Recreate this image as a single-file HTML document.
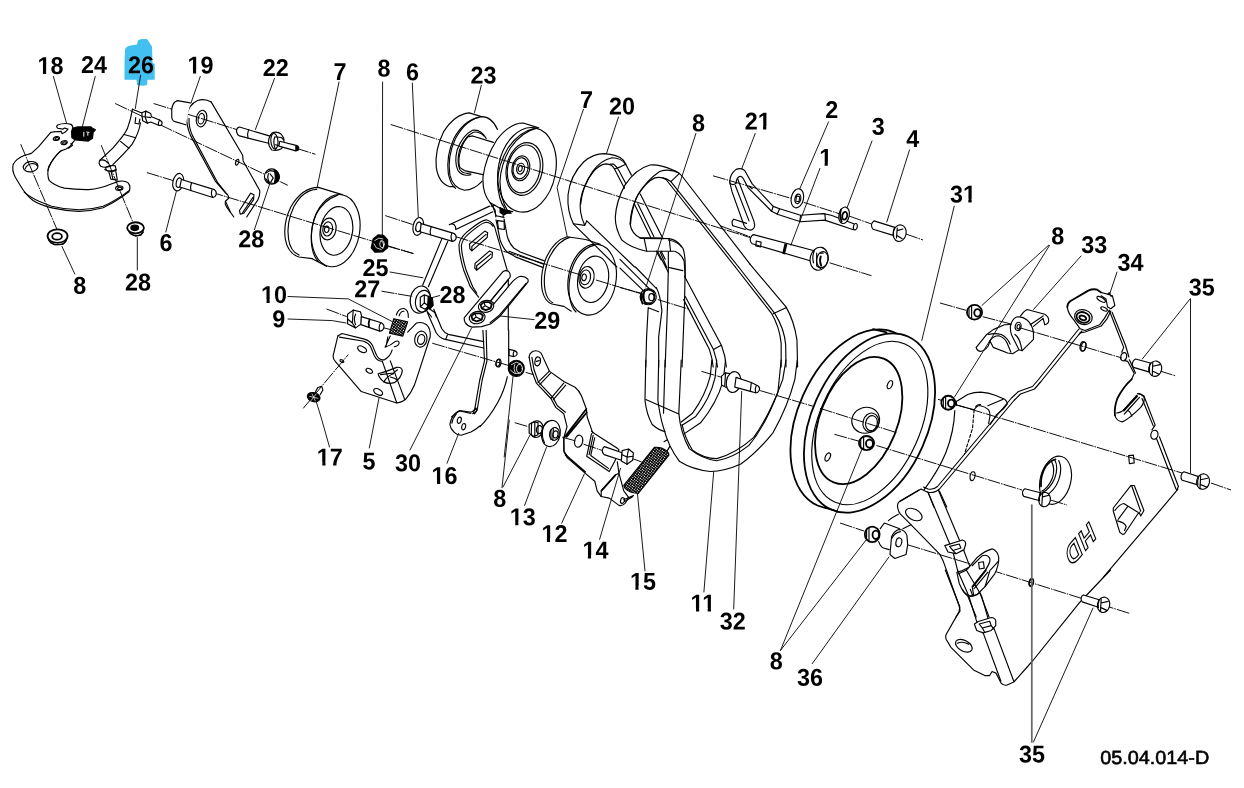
<!DOCTYPE html>
<html lang="en"><head><meta charset="utf-8"><title>05.04.014-D</title>
<style>
html,body{margin:0;padding:0;background:#fff;}
body{width:1244px;height:788px;overflow:hidden;}
svg{display:block;will-change:transform;}
svg text{text-rendering:geometricPrecision;}
.d path,.d line,.d ellipse,.d circle,.d polyline,.d polygon,.d rect{fill:none;stroke:#000;stroke-width:1.15;stroke-linecap:round;stroke-linejoin:round;vector-effect:non-scaling-stroke;}
.d .w{fill:#fff;}
.d .k{fill:#000;}
.d .t{stroke-width:0.8;}
.d .b{stroke-width:1.8;}
.d .ax{stroke-width:0.95;stroke-dasharray:13 1 1.6 1;stroke-linecap:butt;}
.d .ld{stroke-width:0.9;}
.n text{font-family:"Liberation Sans",sans-serif;font-size:24.4px;font-weight:bold;fill:#000;}
.n text.c{font-size:19px;font-weight:normal;stroke:#000;stroke-width:0.6px;}
</style></head>
<body>
<svg width="1244" height="788" viewBox="0 0 1244 788">
<defs><pattern id="hx" width="13" height="13" patternUnits="userSpaceOnUse" patternTransform="rotate(38)"><rect width="13" height="13" fill="#fff"/><rect width="13" height="7.2" fill="#000"/><rect width="5.5" height="13" fill="#000"/></pattern></defs>
<rect width="1244" height="788" fill="#fff"/>
<g class="d">
<g>
<path style="stroke:none;fill:#42c1f1" d="M124.5 63 L125 50 Q125.5 46 131 45.5 L137 44.5 L138 40.5 Q139 39 142 39 L146.5 39 Q148 39.5 149 42 L152 46.5 L152.5 63 L154.7 64 L154.7 79.7 L147.5 79.7 L147 85 Q143 86.5 137 85 L136.5 79.7 L124.5 79.7 Z"/>
</g>
<g>
<path class="ax" d="M115.2 103.5 L287.8 185.3"/>
<path class="ax" d="M153.6 103.5 L315.5 154.3"/>
<path class="ax" d="M146.9 172.6 L414 253.8"/>
<path class="ax" d="M20.7 144.2 L57 229.5"/>
<path class="ax" d="M101.2 145.2 L133 222.5"/>
<path class="ax" d="M385.2 215.6 L412.6 224.5"/>
<path class="ax" d="M387.6 246.2 L413.4 253.5"/>
<path class="ax" d="M390.7 124.5 L600 190.7"/>
<path class="ax" d="M600 190.7 L750 237.5"/>
<path class="ax" d="M620 287.5 L641 293.2 M657.9 299.6 L689.3 309.3"/>
<path class="ax" d="M455.7 236.7 L579 274.4 M596 280 L640.5 293.5"/>
<path class="ax" d="M381.6 291.2 L412.2 296.4"/>
<path class="ax" d="M326.6 309 L346.7 316.6 M383.8 327.9 L390.3 329.5 M432.2 343.2 L509 365.6 M525.7 372.4 L534 374.8"/>
<path class="ax" d="M303.2 408.4 L348.3 354.5"/>
<path class="ax" d="M514.7 422.7 L528.4 426.7 M562.2 437.2 L576 441 M583.5 444.2 L602.8 450.6 M632.6 458.7 L641.5 461.9"/>

<path class="ax" d="M713 175.8 L791 198.3 M803.8 202.4 L839.3 213.7 M849 216 L871.5 224 M905.3 233.8 L923 240"/>
<path class="ax" d="M720 225.7 L750.6 237 M829.6 262.8 L871.5 275.7"/>
<path class="ax" d="M940 303 L966 310.3 M982.7 316.7 L1011 324 M1020.6 328 L1122 358 M1160 371 L1176 376"/>
<path class="ax" d="M938 399.3 L1182 473 M1211 483 L1231 490"/>
<path class="ax" d="M840 523 L864 531 M907.7 544.8 L970.5 564 M990 569.8 L1130 613.5"/>
<path class="ax" d="M701.4 371.3 L723 377.7 M760.2 390.6 L820 408.3"/>
</g>
<g>
<g transform="translate(0,95) scale(0.16116)">
<!-- plate 18 outline -->
<path d="M340 228 L315 232 L290 262 L240 320 L195 362 L150 375 Q100 395 82 430 Q72 465 95 510 L125 560 Q160 620 205 655 Q250 685 330 702 Q410 720 490 722 Q570 720 640 700 Q700 672 760 630 L800 600 Q815 570 795 545 Q775 528 735 536 L690 552 Q620 582 550 587 Q470 588 400 578 Q335 562 305 530 Q290 495 302 445 Q330 390 375 348 L410 335 Q440 320 455 290 L462 283"/>
<path d="M340 228 L380 226 L385 240 L405 230 L422 212 L400 205 L392 212 L358 206 Q345 195 358 186 Q400 170 440 182 Q455 192 452 215"/>
<path d="M150 603 Q200 650 320 690 Q400 710 490 712 Q570 710 640 690 Q720 655 805 590"/>
<path d="M297 470 Q310 420 350 375 Q365 355 385 343"/>
<path d="M440 300 L450 312 L425 330"/>
<ellipse cx="190" cy="445" rx="46" ry="32" transform="rotate(-8 190 445)"/>
<path d="M155 460 Q165 430 200 425 Q225 425 232 440"/>
<ellipse cx="350" cy="270" rx="20" ry="12" transform="rotate(-10 350 270)"/>
<ellipse cx="352" cy="272" rx="12" ry="7" transform="rotate(-10 350 270)"/>
<ellipse cx="398" cy="296" rx="20" ry="12" transform="rotate(-10 398 296)"/>
<ellipse cx="400" cy="298" rx="12" ry="7" transform="rotate(-10 398 296)"/>
<ellipse cx="740" cy="578" rx="23" ry="14" transform="rotate(-5 740 578)"/>
<ellipse cx="742" cy="580" rx="13" ry="8" transform="rotate(-5 740 578)"/>
<!-- spring 24 -->
<path class="k" d="M450 207 L482 198 L565 198 L572 204 L592 216 L578 232 L574 268 L548 286 L468 279 L446 266 L444 228 Z"/>
<path d="M520 232 L520 256 M538 230 L552 232 M545 238 L545 250" style="stroke:#fff;stroke-width:1"/>
<!-- rod 26 -->
<path d="M822 88 Q812 150 790 210 Q775 245 700 330 L620 405"/>
<path d="M872 172 Q862 235 820 305 Q780 355 700 432"/>
<path d="M620 405 Q608 425 625 442 Q650 455 690 440"/>
<path d="M622 405 Q650 395 672 425"/>
<path d="M770 245 L842 265 M748 288 L800 330"/>
<path d="M822 88 L880 112 M842 140 L838 175 L862 180 L868 150"/>
<!-- pin on top of rod -->
<path class="w" d="M880 110 L905 100 L935 115 L940 135 L990 155 Q1010 165 1005 180 Q1000 192 985 188 L935 168 L915 175 L885 160 Z"/>
<path d="M905 100 L900 135 L915 175 M880 135 L900 135 L935 140 M990 155 Q980 170 985 188"/>
<!-- screw at bottom of rod -->
<path d="M655 450 Q680 432 715 440 L720 462 Q690 478 660 468 Z"/>
<path d="M650 462 Q690 485 722 465 M675 475 L688 522 L728 528 L718 470 M690 478 L702 525"/>
</g>
</g>
<g>
<g transform="translate(150,90) scale(0.16116)">
<!-- bracket 19 -->
<path d="M380 75 Q340 50 295 65 Q240 90 228 160 Q225 220 250 280 L405 565 L470 640 Q492 655 488 672 L468 690 Q462 705 475 725 L520 788"/>
<path d="M380 75 L575 405 L578 440 L680 622 Q685 645 670 680 L600 788"/>
<path d="M242 175 Q240 230 262 280 L420 575 L478 648"/>
<path d="M468 690 L500 760"/>
<ellipse cx="320" cy="177" rx="32" ry="52" transform="rotate(12 320 177)"/>
<ellipse cx="318" cy="178" rx="19" ry="33" transform="rotate(12 318 178)"/>
<ellipse cx="541" cy="448" rx="9" ry="19" transform="rotate(18 541 448)"/>
<path d="M555 748 L625 640 L645 650 L642 682 L582 765 L560 770 Z M575 760 L638 668"/>
<!-- boss cylinder -->
<path class="w" d="M250 80 L170 66 Q140 75 135 120 L135 170 Q138 190 150 195 L222 216 Z" style="stroke:none"/><path d="M250 80 L170 66 Q140 75 135 120 L135 170 Q138 190 150 195 L222 216"/>
<!-- bolt 22 -->
<path class="w" d="M750 288 L555 230 Q535 235 537 258 Q540 278 555 285 L742 332 Z"/>
<path d="M612 246 Q602 270 608 298"/>
<path class="w" d="M760 265 Q790 255 815 275 L830 300 L832 340 L815 365 Q790 380 755 372 Q735 350 735 320 Q738 285 760 265 Z"/>
<path d="M775 290 Q760 320 778 368 M775 290 L815 295 L830 310 M778 340 L800 345"/>
<ellipse cx="772" cy="318" rx="22" ry="48" transform="rotate(-5 772 318)"/>
<path class="w" d="M805 318 L912 345 Q928 355 920 372 L905 378 L800 348 Z"/>
<path class="k" d="M905 348 L922 355 L918 372 L905 376 Z"/>
<!-- bolt 6 -->
<ellipse class="w" cx="175" cy="572" rx="33" ry="55" transform="rotate(12 175 572)"/>
<ellipse cx="180" cy="575" rx="17" ry="30" transform="rotate(12 180 575)"/>
<path class="w" d="M195 555 L400 618 Q415 630 410 650 Q405 665 390 667 L185 602 Z"/>
<path d="M258 575 Q248 600 254 625 M390 667 Q375 645 385 620"/>
<!-- nut 28 -->
<ellipse class="w" cx="755" cy="537" rx="45" ry="48"/>
<path class="k" d="M770 495 Q805 510 803 545 Q795 575 770 580 Q785 540 770 495 Z"/>
<path d="M720 515 L745 500 L772 505 M718 550 L735 575 L768 580 M735 520 Q725 545 740 570 M745 520 L765 545 L750 570"/>
<!-- roller 7 top arcs -->
</g>
</g>
<g>
<g transform="translate(270,160) scale(0.16116)">
<!-- roller 7 -->
<ellipse cx="408" cy="438" rx="148" ry="226" transform="rotate(10 408 438)"/>
<ellipse cx="412" cy="440" rx="100" ry="152" transform="rotate(10 412 440)"/>
<path d="M448 215 L300 170 Q200 170 130 290 Q80 390 95 490 Q110 580 180 602 L262 612"/>
<path d="M290 182 Q205 185 148 290 Q100 390 115 490 Q125 565 180 590"/>
<path d="M262 612 L350 660 M420 218 Q330 250 285 340 Q245 440 260 540 Q270 600 300 630"/>
<ellipse cx="362" cy="428" rx="48" ry="68" transform="rotate(10 362 428)"/>
<ellipse cx="358" cy="428" rx="30" ry="44" transform="rotate(10 358 428)"/>
<ellipse cx="352" cy="430" rx="14" ry="20" transform="rotate(10 352 430)"/>

<!-- nut 8 -->
<path class="k" d="M640 490 L670 465 L705 468 L730 495 L730 545 L700 570 L650 572 L628 545 Z"/>
<path d="M650 500 L675 485 L700 490 M690 500 Q715 520 700 550 M645 520 L660 545 L690 555" style="stroke:#fff;stroke-width:0.8"/>
<ellipse cx="695" cy="522" rx="14" ry="22" style="stroke:#fff;stroke-width:0.8"/>
<!-- bolt 6 (second) -->
<ellipse class="w" cx="920" cy="412" rx="32" ry="56" transform="rotate(12 920 412)"/>
<ellipse cx="922" cy="415" rx="17" ry="30" transform="rotate(12 922 415)"/>
<path class="w" d="M938 395 L1140 455 Q1158 465 1155 485 Q1150 503 1132 505 L932 445 Z"/>
<path d="M1000 415 Q990 440 996 463 M1132 505 Q1118 482 1128 455"/>
<!-- nut 28 leftover (left edge) -->
</g>
</g>
<g>
<g transform="translate(400,90) scale(0.16116)">
<!-- front disc -->
<ellipse cx="788" cy="495" rx="178" ry="265" transform="rotate(11 788 495)"/>
<ellipse cx="772" cy="490" rx="112" ry="165" transform="rotate(11 772 490)"/>
<ellipse cx="768" cy="490" rx="100" ry="150" transform="rotate(11 768 490)"/>
<ellipse cx="750" cy="486" rx="55" ry="78" transform="rotate(11 750 486)"/>
<ellipse cx="748" cy="486" rx="46" ry="66" transform="rotate(11 748 486)"/>
<ellipse cx="748" cy="488" rx="24" ry="34" transform="rotate(11 748 488)"/>
<ellipse cx="746" cy="488" rx="12" ry="18" transform="rotate(11 746 488)"/>
<path d="M860 235 L765 205 Q680 205 600 310 Q530 420 515 540 Q510 640 560 700 L640 745"/>
<path d="M830 240 Q740 260 670 360 Q610 460 605 570 Q610 680 650 735"/>
<path d="M845 238 Q755 258 685 360 Q625 460 620 570 Q625 680 665 745"/>
<!-- rear disc -->
<path d="M605 245 Q570 165 505 165 Q410 180 345 300 Q290 420 310 530 Q330 610 400 622 Q460 620 510 565"/>
<path d="M505 165 L430 142 Q340 150 270 260 Q215 370 225 480 Q240 580 310 600 L335 600"/>
<path d="M490 170 Q395 190 335 300 Q285 410 300 520 Q315 590 345 610"/>
<path d="M535 300 Q500 240 450 250 Q390 280 355 370 Q335 450 360 500 Q390 540 440 525"/>
<path d="M520 285 Q490 255 455 262 Q400 290 370 370 Q350 450 372 495 Q395 525 440 515"/>
<!-- hub -->
<path d="M420 292 L450 285 L580 325 M370 480 L400 500 L515 525 M420 292 Q385 330 370 400 Q360 450 372 480"/>
<!-- small bracket below -->
<path d="M560 700 L590 745 L595 788 M640 745 L640 788 M620 730 L650 745 L700 755"/>
<path class="k" d="M630 740 L680 750 L690 765 L640 765 Z"/>
</g>
</g>
<g>
<g transform="translate(550,140) scale(0.16116)">
<!-- belt 20 top loop -->
<path d="M145 520 Q105 440 112 340 Q125 220 210 135 Q270 85 335 85 Q420 90 455 125 L470 150 L505 218"/>
<path d="M190 400 Q200 290 265 195 Q315 125 385 110 Q440 110 470 150"/>
<path d="M215 528 Q178 450 190 370 Q205 280 270 195 Q310 150 350 148 Q385 150 400 180 L462 300"/>
<path d="M375 150 L395 150 Q415 165 425 185 L470 270"/>
<path d="M400 180 L440 165 L470 150 M145 520 L215 530 L228 502"/>
<path d="M145 520 L415 788 M228 502 L525 788"/>
<!-- belt 11 top loop -->
<path d="M600 690 Q500 670 445 620 Q405 550 405 480 Q410 380 465 280 Q530 180 620 155 Q680 150 760 185 Q800 200 820 225 L1241 770"/>
<path d="M500 520 Q505 430 545 340 Q600 250 680 195 Q745 175 800 205"/>
<path d="M497 520 Q500 440 535 360 Q590 260 650 235 Q690 225 720 245 L1150 788"/>
<path d="M700 235 Q725 240 750 258 L1170 788"/>
<path d="M750 258 L800 210"/>
<path d="M497 520 Q505 580 560 608 L740 612 Q790 622 815 660"/>
<path d="M600 690 L770 690"/>
<path d="M585 615 L600 688 M740 615 L748 690"/>
<path class="b" d="M562 609 L700 611"/>
<path d="M525 400 L625 605 M545 395 L645 600 M560 335 L695 600"/>
<path d="M660 690 L690 745 M690 690 L715 740"/>
</g>
<g transform="translate(620,240) scale(0.16116)">
<!-- belt 11 right run -->
<path d="M805 148 L1030 415 Q1080 500 1098 620 L1102 788"/>
<path d="M715.5 167.5 L940 455 Q990 540 1000 640 L1000 788"/>
<path d="M736 167.5 L960 455 Q1020 550 1028 650 L1030 788"/>
<path d="M950 458 L1030 420"/>
<!-- belt 20 right run -->
<path d="M400 225 L630 655 Q655 720 660 788"/>
<path d="M395 370 L555 680 Q575 740 578 788"/>
<path d="M405 350 L580 680 Q600 740 605 788"/>
<path d="M580 680 L625 655"/>
<!-- left vertical run -->
<path d="M340 70 Q380 85 398 130 L405 230"/>
<path d="M300 0 Q360 10 390 50 Q405 90 405 160 L400 400 L385 788"/>
<path d="M300 170 L390 190"/>
<path d="M300 75 L300 170 L295 400 L280 788"/>
<path d="M250 75 L290 170 M235 75 L300 200"/>
<path d="M225 295 Q250 340 260 440 L240 600 L240 788"/>
<path d="M175 420 L240 445 M175 420 L165 600 L160 788"/>
<path d="M95.4 167.5 L225 300 M0 120 L180 300 M0 175 L140 310"/>
<!-- nut 8 -->
<ellipse cx="175" cy="352" rx="50" ry="50" class="w"/>
<ellipse cx="178" cy="352" rx="38" ry="42"/>
<ellipse cx="195" cy="355" rx="16" ry="22"/>
<path class="b" d="M135 330 Q125 360 140 395 M150 320 Q140 360 158 395"/>
<path d="M150 315 L180 305 L210 320 M160 390 L195 392"/>
</g>
<g transform="translate(620,360) scale(0.16116)">
<path d="M160 0 L155 250 Q165 340 200 400 Q240 435 280 445"/>
<path d="M240 0 L235 250 Q250 360 270 420 Q300 540 370 630 Q450 680 560 692 Q650 690 750 645 Q850 575 950 450 Q1040 290 1085 120 L1100 0"/>
<path d="M280 0 L270 330"/>
<path d="M380 0 L365 330 Q375 450 430 550 Q510 615 600 625 Q700 610 800 530 Q900 410 980 200 L1000 0"/>
<path d="M385 400 Q400 480 450 560 Q520 612 600 612 Q720 580 830 480 Q930 340 1010 120 L1030 0"/>
<path d="M160 245 L365 335"/>
<path d="M570 0 L560 100 Q530 220 450 330 L380 385"/>
<path d="M600 0 L590 110 Q560 240 470 350 L385 405"/>
<path d="M655 0 L640 130 Q600 270 500 390 L395 460"/>
<!-- bolt 32 -->
<path class="w" d="M630 100 L655 80 L690 85 L690 160 L660 170 L630 155 Z"/>
<ellipse class="w" cx="705" cy="137" rx="45" ry="65" transform="rotate(10 705 137)"/>
<path d="M655 80 L650 160"/>
<path class="w" d="M720 108 L815 140 L855 160 Q870 170 865 188 Q855 205 840 203 L810 195 L712 168 Z"/>
<path d="M815 140 L808 195 M845 160 Q835 180 842 203"/>
</g>
</g>
<g>
<g transform="translate(380,190) scale(0.16116)">
<!-- arms of bracket 25 -->
<path d="M430 215 L680 100 M470 245 L700 135 M430 215 Q445 205 460 215 Q472 228 470 245"/>
<path d="M385 300 L265 590 M420 320 L300 600"/>
<path d="M700 100 L720 160 L770 170 M690 100 L715 95"/>
<path class="k" d="M745 110 L800 135 L770 155 L745 140 Z"/>
<path d="M720 185 L745 310 Q765 365 790 385 L840 415 L1010 480"/>
<path d="M770 180 L790 290 Q805 335 830 360 L870 385 L1020 440"/>
<path d="M728 190 L770 195 L772 245 L735 240 Z"/>
<path d="M800 380 L1015 460"/>
<!-- plate -->
<path d="M790 500 L720 260 Q710 200 660 185 Q630 185 540 260 Q495 300 490 340 Q490 400 520 500 L560 600 L612 665"/>
<path d="M700 225 Q690 205 660 200 Q635 200 550 272 Q510 305 505 345 Q505 400 535 500 L575 600 L600 640"/>
<path d="M555 335 L650 255 L668 265 L665 295 L570 378 L558 365 Z M570 378 L570 350 L658 275"/>
<path d="M590 455 L680 378 L698 388 L695 418 L600 498 L588 485 Z M600 498 L600 470 L688 398"/>
<!-- lower boss + nut 28 -->
<ellipse cx="250" cy="680" rx="62" ry="85" transform="rotate(10 250 680)"/>
<ellipse cx="268" cy="690" rx="48" ry="68" transform="rotate(10 268 690)"/>
<path class="k" d="M300 660 L325 670 L330 715 L310 740 L295 730 Z"/>
<path d="M250 665 L275 650 L300 660 L300 720 L280 740 L250 725 Z M275 650 L275 700 L250 725 M275 700 L300 720"/>
<path d="M310 740 L340 760 L350 788 M290 750 L320 788"/>
</g>
<g transform="translate(460,200) scale(0.16116)">
<!-- pulley 7 lower -->
<ellipse cx="820" cy="494" rx="148" ry="222" transform="rotate(10 820 494)"/>
<ellipse cx="826" cy="492" rx="95" ry="145" transform="rotate(10 826 492)"/>
<ellipse cx="785" cy="480" rx="47" ry="68" transform="rotate(10 785 480)"/>
<ellipse cx="778" cy="480" rx="32" ry="46" transform="rotate(10 778 480)"/>
<ellipse cx="770" cy="480" rx="14" ry="21" transform="rotate(10 770 480)"/>
<path d="M870 275 L780 245 L665 228 Q580 250 530 370 Q495 470 510 560 Q525 630 570 645 L645 660 L690 690"/>
<path d="M680 232 Q600 255 548 370 Q512 470 528 560 Q540 620 575 638"/>
<path d="M835 280 Q750 300 705 400 Q665 500 680 600 Q690 670 720 695"/>
</g>
<g transform="translate(455,260) scale(0.08881)">
<!-- link 29 -->
<path class="w" d="M105 650 L540 130 Q570 112 600 125 Q625 145 622 185 L615 200 L400 460 L440 490 L650 240 Q700 190 740 183 Q790 183 820 215 Q828 235 820 250 L510 630 L400 720 L300 750 L190 755 Q140 745 115 705 Q100 675 105 650 Z"/>
<path d="M600 222 L395 470 M800 262 L500 622 L395 705"/>
<ellipse class="w" cx="350" cy="522" rx="88" ry="66" transform="rotate(-12 350 522)"/>
<path class="w b" d="M290 505 L325 475 L385 475 L415 500 L400 545 L345 565 L300 545 Z"/>
<path d="M325 475 L340 515 L400 545 M340 515 L300 545"/>
<ellipse class="w" cx="250" cy="648" rx="90" ry="68" transform="rotate(-12 250 648)"/>
<path class="w b" d="M185 632 L222 600 L282 600 L315 625 L300 672 L245 692 L198 672 Z"/>
<path d="M222 600 L238 642 L300 672 M238 642 L198 672"/>
<path d="M600 300 L600 222 M600 520 L600 788"/>
</g>
</g>
<g>
<g transform="translate(300,290) scale(0.16116)">
<!-- bolt 9 -->
<path class="w" d="M295 150 L330 125 L375 135 L382 160 L380 210 L345 235 L295 210 Z"/>
<path d="M330 125 L325 205 L345 235 M295 180 L325 205 M345 150 Q330 180 345 215"/>
<path class="w" d="M380 165 L505 203 Q525 215 520 235 Q515 255 495 255 L378 215 Z"/>
<path class="b" d="M432 182 Q422 205 428 230"/>
<path d="M495 255 Q485 230 500 205"/>
<!-- spring 10 -->
<path d="M582 178 L668 198 L638 286 L555 268 Z" style="fill:url(#hx)"/>
<path d="M598 155 Q610 112 645 115 Q675 125 672 170 M615 160 Q625 130 645 132"/>
<path d="M560 285 L528 355 Q560 345 590 320 Q615 310 615 330 Q610 350 585 352 M545 290 L535 345"/>
<!-- plate 5 -->
<path d="M235 285 L260 270 L400 305 Q435 315 450 345 L475 405 Q495 440 525 432 Q560 415 572 372"/>
<path d="M235 285 L205 410 Q205 430 220 445 L380 630 L595 700 Q630 700 655 678 Q690 640 710 590 L740 500 L808 290 Q812 240 785 215 Q755 195 722 205 L668 262"/>
<path d="M245 292 L395 318 Q425 328 438 352 L462 410 Q478 440 505 442"/>
<path d="M510 440 L600 700 M560 440 L650 680"/>
<ellipse cx="385" cy="368" rx="30" ry="17" transform="rotate(28 385 368)"/>
<ellipse cx="260" cy="441" rx="13" ry="7" transform="rotate(28 260 441)"/>
<ellipse cx="430" cy="502" rx="22" ry="13" transform="rotate(28 430 502)"/>
<ellipse cx="485" cy="632" rx="30" ry="17" transform="rotate(28 485 632)"/>
<ellipse cx="750" cy="305" rx="38" ry="50" transform="rotate(12 750 305)"/>
<ellipse cx="752" cy="307" rx="22" ry="31" transform="rotate(12 752 307)"/>
<path d="M485 520 Q540 505 600 480 Q630 475 635 500 Q630 545 585 575 Q550 585 520 570 Q490 545 485 520 Z"/>
<path d="M500 525 L580 515 L605 495 M520 570 Q545 530 580 520 M560 540 Q590 545 605 560"/>
<!-- screw 17 -->
<ellipse class="k" cx="85" cy="665" rx="40" ry="28" transform="rotate(15 85 665)"/>
<path d="M60 660 L110 672 M75 645 L95 688 M100 645 L70 685" style="stroke:#fff;stroke-width:0.7"/>
<path d="M95 635 L110 605 L135 598 L142 620 L125 650"/>
<!-- arm from boss 27 -->
<path d="M830 120 L880 240 Q895 265 920 275 L1140 320"/>
<path d="M790 140 L845 265 Q865 295 895 305 L1140 360"/>
<path d="M915 278 L905 305"/>
<!-- part 16 rod -->
<path d="M1135 250 L1145 440 L1115 560 L1085 735 Q1075 758 1055 758 L990 748 L940 788"/>
<path d="M1155 250 L1160 440 L1130 560 L1100 740 Q1090 765 1070 768"/>
<ellipse cx="1228" cy="452" rx="12" ry="22" transform="rotate(12 1228 452)"/>
</g>
</g>
<g>
<g transform="translate(480,330) scale(0.16116)">
<!-- bracket 12 upper -->
<path d="M305 170 Q305 145 330 132 Q360 122 380 145 L430 255 L520 320 L590 355 Q615 375 630 410 L660 490 L665 540 L700 640"/>
<path d="M305 170 L320 250 L350 330 L440 425 L470 480 L520 520 L540 600 L520 670 L520 750 L545 788"/>
<path d="M322 170 L335 245 L362 322 L452 418 L480 470 L530 510"/>
<path d="M360 325 L430 255 M372 338 L438 268 M440 425 L520 330 M455 432 L532 342"/>
<path d="M520 670 L660 490 M538 662 L662 512" class="b"/>
<ellipse cx="358" cy="195" rx="17" ry="28" transform="rotate(10 358 195)"/>
<path d="M350 195 L368 190"/>
<!-- nut 8 -->
<ellipse class="k" cx="225" cy="238" rx="50" ry="50"/>
<path d="M195 215 L225 200 L255 212 M190 250 L215 270 L250 268 M215 215 Q205 240 218 265" style="stroke:#fff;stroke-width:0.8"/>
<ellipse cx="245" cy="240" rx="18" ry="26" style="stroke:#fff;stroke-width:0.9"/>
<!-- pin -->
<path d="M180 120 L215 128 Q232 135 230 150 Q225 165 210 165 L180 158 Z M210 165 Q200 145 215 128"/>
<ellipse cx="115" cy="205" rx="15" ry="25" transform="rotate(12 115 205)"/>
<!-- part 16 curves -->
<path d="M178 0 L178 230 M170 290 Q150 380 110 450 Q60 540 0 600"/>

<!-- small nut 8 + washer 13 -->
<ellipse class="w" cx="350" cy="615" rx="42" ry="52" transform="rotate(10 350 615)"/>
<path class="w" d="M305 585 L335 570 L360 575 L360 650 L335 660 L305 640 Z"/>
<path d="M320 578 L318 650 M340 572 L340 658"/>
<ellipse cx="368" cy="618" rx="18" ry="25" transform="rotate(10 368 618)"/>
<ellipse class="w" cx="440" cy="642" rx="58" ry="82" transform="rotate(10 440 642)"/>
<path d="M400 700 Q380 660 390 610 Q400 580 420 568"/>
<ellipse cx="462" cy="645" rx="30" ry="40" transform="rotate(10 462 645)"/>
<ellipse cx="468" cy="648" rx="16" ry="22" transform="rotate(10 468 648)"/>
<path d="M440 620 L440 680 M455 612 L452 685"/>
<ellipse cx="612" cy="690" rx="25" ry="38" transform="rotate(12 612 690)"/>
</g>
<g transform="translate(490,420) scale(0.16116)">
<!-- bracket 12 lower -->
<path d="M458 115 L460 200 L480 235 L590 330 L650 380 L665 440 L690 475 L740 485 L800 530 Q825 535 840 515 L860 480"/>
<path d="M630 70 L650 85 L790 175 L800 185 L775 255 L740 320 L600 225 L630 85"/>
<path d="M650 110 L625 220 L735 300 M640 95 L615 215"/>
<path d="M690 440 L780 340 L800 330 L830 440 L860 480 M800 330 L790 260 M690 475 L690 440"/>
<path class="b" d="M470 218 L590 322 M692 438 L778 342"/>
<ellipse cx="822" cy="500" rx="12" ry="18" transform="rotate(15 822 500)"/>
<path d="M830 495 L890 468 L880 480 L835 505"/>
<!-- bolt 14 -->
<path class="w" d="M710 165 L820 203 L815 250 L708 215 Q695 205 697 188 Q700 170 710 165 Z"/>
<path class="w" d="M820 190 L860 180 L890 205 L885 250 L850 275 L815 255 Z"/>
<path d="M860 180 L850 230 L850 275 M820 215 L850 230 L888 225"/>
<!-- spring 15 -->
<path d="M1020 170 Q1060 165 1095 190 Q1112 205 1110 218 L920 455 Q880 455 850 435 Q830 420 830 405 Z" style="fill:url(#hx)"/>
<path d="M1080 135 L1100 122 M1100 190 L1115 165" />
</g>
</g>
<g>
<g transform="translate(720,150) scale(0.16116)">
<!-- rod 21 -->
<path d="M60 200 Q60 150 100 120 Q135 108 155 130 L200 210 L330 350 L370 365 L500 405 L640 395 L690 405 L830 458"/>
<path d="M100 205 Q102 175 120 165 Q135 160 145 178 L175 235 L320 380 L360 400 L500 445 L650 435 L828 495"/>
<path d="M60 200 L75 260 L150 470 Q165 498 190 497 Q215 490 215 465 L210 440 L110 180"/>
<path d="M95 220 L180 440 M85 430 L165 455 M80 470 L158 493"/>
<path d="M85 430 Q72 440 75 455 Q78 468 80 470"/>
<path d="M330 350 L320 380 M370 365 L355 398 M500 405 L495 445 M650 395 L655 438 M180 225 L200 240 M62 205 Q80 225 100 205"/>
<ellipse cx="840" cy="476" rx="12" ry="20" transform="rotate(12 840 476)"/>
<!-- washer 2 -->
<ellipse class="w" cx="480" cy="300" rx="38" ry="60" transform="rotate(12 480 300)"/>
<ellipse cx="483" cy="303" rx="18" ry="30" transform="rotate(12 483 303)"/>
<path d="M475 285 L495 290 L490 320 L470 318 Z"/>
<!-- washer 3 -->
<ellipse class="w" cx="770" cy="405" rx="32" ry="52" transform="rotate(12 770 405)"/>
<ellipse cx="774" cy="408" rx="15" ry="24" transform="rotate(12 774 408)" class="b"/>
<path d="M750 370 Q740 405 755 445" class="b"/>
<!-- bolt 4 -->
<path class="w" d="M955 440 L1085 480 L1075 530 L950 492 Q938 480 940 462 Q945 445 955 440 Z"/>
<ellipse class="w" cx="1115" cy="516" rx="40" ry="52" transform="rotate(12 1115 516)"/>
<path d="M1085 480 Q1070 505 1078 535 M1100 485 L1095 545 M1100 500 L1135 490 M1098 530 L1130 550"/>
<!-- bolt 1 -->
<path class="w" d="M208 525 L585 625 L570 690 L200 582 Q185 570 188 550 Q195 528 208 525 Z"/>
<path d="M225 565 L255 572 L252 602 L222 595 Z"/>
<path class="b" d="M405 585 L392 640 M412 588 L398 642"/>
<ellipse class="w" cx="615" cy="675" rx="55" ry="72" transform="rotate(12 615 675)"/>
<ellipse cx="635" cy="680" rx="35" ry="50" transform="rotate(12 635 680)"/>
<path d="M585 625 Q570 660 580 700 M600 640 L600 720 M620 640 L640 640 M600 720 L625 735" />
<path class="b" d="M625 660 Q615 690 628 718"/>
</g>
</g>
<g>
<g>
<!-- back rim (shifted ellipse), drawn first then front covers -->
<ellipse class="b" cx="856" cy="419" rx="58" ry="94.7" transform="rotate(24 856 419)"/>
<ellipse class="b w" cx="869.5" cy="423" rx="58" ry="94.7" transform="rotate(24 869.5 423)"/>
<path class="b" d="M886.5 332.4 L873 329.2 M838.5 511.8 L825.5 507.5"/>
<ellipse cx="869.8" cy="423" rx="50.5" ry="86.5" transform="rotate(24 869.8 423)"/>
<ellipse class="b" cx="858.7" cy="420.5" rx="38.6" ry="66.7" transform="rotate(22 858.7 420.5)"/>
</g>
<g transform="translate(760,300) scale(0.29188)">
<!-- hub -->
<ellipse cx="362" cy="412" rx="48" ry="44" transform="rotate(-20 362 412)"/>
<ellipse cx="380" cy="420" rx="27" ry="33" transform="rotate(13 380 420)"/>
<ellipse cx="382" cy="422" rx="20" ry="26" transform="rotate(13 382 422)"/>
<ellipse cx="445" cy="290" rx="8" ry="15" transform="rotate(25 445 290)"/>
<ellipse cx="232" cy="538" rx="8" ry="15" transform="rotate(25 232 538)"/>
<!-- nut 8 center -->
<ellipse class="w b" cx="365" cy="490" rx="26" ry="24"/>
<ellipse cx="375" cy="492" rx="12" ry="14" class="b"/>
<path d="M345 478 L345 505 M355 470 L355 512"/>
<!-- nut 8 right -->
<ellipse class="w b" cx="645" cy="352" rx="24" ry="24"/>
<ellipse cx="655" cy="354" rx="11" ry="13" class="b"/>
<path d="M628 340 L628 365 M636 332 L636 372"/>
<!-- nut 8 top right -->
<ellipse class="w b" cx="735" cy="42" rx="26" ry="25"/>
<ellipse cx="745" cy="44" rx="11" ry="13" class="b"/>
<path d="M716 30 L716 55 M725 22 L725 62"/>
</g>
</g>
<g>
<g transform="translate(940,270) scale(0.16116)">
<!-- clamp 33 -->
<path d="M225 480 L290 400 L330 370 L400 340 L440 338"/>
<path d="M225 480 Q228 500 250 505 Q275 505 300 470 L310 440 L330 480 L420 515 L450 520 L490 495 L510 500 L580 430 L580 390 Q575 340 540 310 Q510 285 475 292 Q445 305 437 350 Q435 380 445 405 L490 495"/>
<path d="M310 440 Q330 408 365 408 Q400 420 415 450 L440 510 M300 400 Q340 390 380 400 Q420 420 435 460"/>
<path d="M520 260 L540 245 L650 275 Q675 290 675 315 Q672 335 650 340 L640 300 L580 350 M520 260 L500 285 M560 340 L640 285"/>
<path d="M510 500 L500 460 Q490 420 465 400"/>
<ellipse cx="485" cy="350" rx="18" ry="26" transform="rotate(12 485 350)"/>
<ellipse cx="487" cy="352" rx="9" ry="14" transform="rotate(12 487 352)"/>
<!-- tab 34 + grommet -->
<path class="b" d="M790 230 Q790 205 810 192 L920 128 Q950 115 975 122 L1000 140"/>
<path d="M790 230 Q795 270 830 310 L870 365 L900 375 L990 340 L1020 300 L1050 250"/>
<path d="M1000 140 L1040 150 L1070 160 L1085 220 L1060 240 L1040 230 L1030 180 L1000 160 M1040 150 L1050 140 L1062 165"/>
<path d="M870 390 L900 385 L1000 348 L1035 305 L1060 255"/>
<ellipse cx="1000" cy="182" rx="30" ry="12" transform="rotate(30 1000 182)"/>
<ellipse cx="1018" cy="242" rx="22" ry="10" transform="rotate(25 1018 242)"/>
<ellipse cx="890" cy="292" rx="56" ry="45" transform="rotate(20 890 292)"/>
<ellipse cx="888" cy="294" rx="42" ry="32" transform="rotate(20 888 294)" class="b"/>
<ellipse cx="886" cy="297" rx="22" ry="13" transform="rotate(20 886 297)" class="b"/>
<!-- plate top edge (long diagonal) -->


<!-- plate right edge upper -->
<path d="M1050 250 L1140 480 L1128 510"/>
<path d="M1068 262 L1152 470 L1172 540"/>
<ellipse cx="1140" cy="538" rx="18" ry="26" transform="rotate(15 1140 538)"/>
<ellipse cx="890" cy="475" rx="14" ry="28" transform="rotate(15 890 475)"/>
</g>
<g transform="translate(1044,330) scale(0.16116)">
<!-- right edge continuing -->
<path d="M500 190 L520 195 L560 270 L545 302 M590 395 L620 410 L690 590 L670 620"/>
<path d="M530 185 L568 268 M608 425 L678 595"/>
<ellipse cx="685" cy="650" rx="22" ry="28" transform="rotate(15 685 650)"/>
<!-- scoop -->
<path class="b" d="M545 305 Q490 355 455 425 Q435 480 440 530"/>
<path d="M440 530 Q450 565 485 570 Q525 555 600 480 Q630 440 620 415 Q605 395 580 395"/>
<path d="M575 405 L500 490 Q480 515 450 515 M592 418 L520 498 L498 522 M520 498 Q540 510 545 535"/>
<path class="b" d="M578 410 L495 500"/>
<!-- bolt 35 top -->
<path class="w" d="M568 180 L660 205 L650 260 L555 232 Q545 222 548 205 Q555 185 568 180 Z"/>
<ellipse class="w" cx="690" cy="240" rx="40" ry="48" transform="rotate(12 690 240)"/>
<path d="M660 205 Q650 230 655 262 M675 200 L672 280 M675 225 L720 215 M672 255 L715 275"/>
<ellipse cx="242" cy="102" rx="18" ry="30" transform="rotate(12 242 102)"/>
</g>
</g>
<g>
<g transform="translate(900,380) scale(0.16116)">
<!-- guard cover -->
<path d="M355 130 L420 90 Q460 75 500 75 Q550 78 590 95 L650 120 Q668 135 665 150 L640 180 L600 215 L560 275"/>
<path d="M350 155 L460 185 Q475 160 495 158 Q530 165 550 185 Q560 200 558 225 L550 270"/>
<path d="M350 130 L350 158 M545 160 L640 120 M470 165 Q480 150 500 152"/>
<path d="M460 185 L450 300 L400 460" style="stroke-dasharray:3 2"/>
<path d="M340 190 Q335 320 285 450 Q240 560 150 680"/>
<!-- plate top edge continuing -->


<path d="M175 700 L210 788 M245 690 L290 788"/>
<ellipse cx="450" cy="597" rx="15" ry="28" transform="rotate(12 450 597)"/>
<!-- round opening -->
<ellipse cx="965" cy="622" rx="95" ry="152" transform="rotate(14 965 622)"/>
<path class="b" d="M875 660 Q870 590 905 535 Q930 500 965 492"/>
<path d="M960 495 Q985 540 960 610 Q930 680 880 700 M985 500 Q1010 550 985 620 Q960 690 900 720"/>
<path d="M940 505 Q965 550 945 610 Q920 670 880 690"/>
<!-- bolt 35 lower-mid -->
<path class="w" d="M775 675 L870 700 L862 748 L768 722 Q758 712 760 695 Q765 680 775 675 Z"/>
<ellipse class="w" cx="897" cy="742" rx="36" ry="45" transform="rotate(12 897 742)"/>
<path d="M870 700 Q860 725 866 750 M885 700 L880 780 M885 725 L925 715"/>
</g>
<g transform="translate(840,490) scale(0.16116)">
<!-- nut 8 lower-left -->
<ellipse class="w b" cx="200" cy="275" rx="46" ry="48"/>
<ellipse cx="222" cy="278" rx="20" ry="26" class="b"/>
<path d="M165 250 L165 300 M180 238 L180 315"/>
<!-- bushing 36 -->
<path class="w" d="M310 400 L320 290 Q335 255 365 245 Q400 245 415 280 L420 340 L410 400 L340 425 Z"/>
<ellipse cx="365" cy="325" rx="18" ry="28" transform="rotate(12 365 325)"/>
<path d="M250 240 L275 205 L370 240 M240 320 Q250 350 270 360 L305 370 M322 300 Q340 262 375 258"/>
<!-- plate lower-left flange -->
<path d="M490 0 L370 70 Q352 85 358 110 Q362 135 375 150 L440 215 L620 400 L640 440 L740 720 L745 750 L720 788"/>
<ellipse cx="458" cy="152" rx="55" ry="33" transform="rotate(28 458 152)"/>
<path d="M300 190 Q330 165 362 150 M390 240 L440 215"/>
<!-- edge lines -->
<path d="M545 10 L700 380 L730 500 L845 788"/>
<path d="M610 0 L770 380 L800 460 L925 788"/>
<!-- clip upper -->
<path class="w" d="M650 345 L760 310 Q780 315 780 335 L770 370 L720 395 L670 385 Z"/>
<path d="M680 350 L740 335 L750 360 L700 375 Z M700 375 L720 395"/>
<!-- scoop lower -->
<path class="w" d="M725 510 L760 500 L800 480 L850 420 Q900 375 945 365 Q980 380 985 420 Q985 470 960 520 L900 600 L850 650 Q820 665 795 658 Q765 640 740 580 Z"/>
<path d="M820 600 L900 500 Q935 450 930 425 Q915 395 880 410 L820 470 M832 612 L918 510 M800 480 Q790 500 735 520 M900 600 L930 500 L985 440 M820 600 L830 655"/>
<path class="b" d="M825 598 L905 498"/>
<path d="M860 450 L890 445 L895 485 L865 490 Z"/>
<ellipse cx="1188" cy="573" rx="12" ry="22" transform="rotate(12 1188 573)"/>
</g>
<g>
<path d="M1082 331 L1078.5 335 L1041 381.5 L1034.5 389 L1020.5 394 L1014 400.5 L939.5 489 Q934.5 493.5 927.6 492.2 L921 489 L900 501.5"/>
<path d="M1079 329 L1076 332.5 L1038.5 379.5 L1032.5 386.5 L1018.5 391.5 L1011.5 398 L937.5 486.5 Q933.5 490 928 489 L923.5 487"/>
</g>
</g>
<g>
<g transform="translate(1044,450) scale(0.16116)">

<path d="M830 245 L370 788"/>
<path d="M525 35 L555 32 L560 80 L530 85 Z"/>
<!-- bolt 35 right -->
<path class="w" d="M868 135 L960 165 L950 215 L858 188 Q848 178 850 160 Q855 140 868 135 Z"/>
<ellipse class="w" cx="987" cy="196" rx="40" ry="48" transform="rotate(12 987 196)"/>
<path d="M960 165 Q950 190 955 218 M972 160 L968 238 M972 185 L1015 175 M968 212 L1012 232"/>
<!-- louvre cutout -->
<path d="M430 360 L540 220 L560 220 L620 375 L600 410 L590 385 L500 520 L490 525 L470 510 L430 380 Z"/>
<path d="M545 225 L600 380 M440 375 Q470 335 495 332 L580 385 M460 430 L520 350 M455 440 Q500 450 510 475 L500 500"/>
</g>
<g transform="translate(930,570) scale(0.16116)">
<path d="M95 0 L185 230 L180 260 L100 400 Q95 415 100 430 L130 480 L270 620 L340 655 L370 655 L385 630 L410 640 L440 700 Q455 718 475 715 L520 695 L640 560 L930 200 L1120 0"/>
<path d="M170 0 L240 160 L290 320 L330 390 L440 690"/>
<path d="M225 0 L320 160 L360 300 L400 370 L520 690"/>
<ellipse cx="210" cy="470" rx="56" ry="33" transform="rotate(28 210 470)"/>
<path d="M170 455 Q200 440 240 460"/>
<!-- clip lower -->
<path class="w" d="M275 335 L300 320 L380 295 Q402 295 408 315 L408 345 L380 375 L330 390 L290 375 Z"/>
<path d="M305 335 L370 318 L380 345 L325 360 Z M325 360 L340 388 M380 345 L395 365"/>
<!-- scoop bottom remnants -->
<path d="M200 120 Q215 150 245 160 Q280 160 305 145 M250 120 L265 160"/>
<ellipse cx="628" cy="78" rx="14" ry="25" transform="rotate(12 628 78)"/>
<!-- bolt 35 bottom -->
<path class="w" d="M952 155 L1050 185 L1040 230 L945 198 Q935 188 938 172 Q942 158 952 155 Z"/>
<ellipse class="w" cx="1077" cy="216" rx="38" ry="48" transform="rotate(12 1077 216)"/>
<path d="M1050 185 Q1040 210 1045 235 M1062 180 L1058 258 M1062 205 L1105 195 M1058 232 L1100 252"/>
</g>
<text transform="matrix(-0.62 0.72 -0.36 -0.88 1090 520.5)" x="0" y="0" style="font-family:'Liberation Sans',sans-serif;font-weight:bold;font-size:28px;fill:#fff;stroke:#000;stroke-width:1.35px;letter-spacing:1.5px">HD</text>
<g>
<path d="M1156.5 438.5 L1175.9 488.8 L1177 490 M1159.4 436.8 L1178.4 486.5 L1177 490"/>
</g>
</g>
<g>
<g transform="translate(20,190) scale(0.16116)">
<ellipse class="w" cx="233" cy="300" rx="58" ry="40"/>
<ellipse class="w b" cx="233" cy="286" rx="62" ry="42"/>
<ellipse cx="230" cy="288" rx="30" ry="20" class="b"/>
<path d="M190 322 L215 340 L265 338 L285 318"/>
<ellipse class="w" cx="720" cy="250" rx="45" ry="34"/>
<ellipse class="w b" cx="717" cy="235" rx="52" ry="35"/>
<ellipse class="k" cx="712" cy="235" rx="24" ry="17"/>
<path d="M690 272 L715 286 L750 280 L765 262"/>
</g>
</g>
<g>
<g transform="translate(400,320) scale(0.16116)">
<path d="M500 655 Q470 680 440 695 L380 715 Q350 712 335 695 Q312 672 310 650 Q312 615 340 582 Q355 565 372 565 L440 580"/>
<path d="M322 640 Q325 610 348 585"/>
<ellipse cx="368" cy="622" rx="12" ry="20" transform="rotate(15 368 622)"/>
<ellipse cx="395" cy="662" rx="12" ry="20" transform="rotate(15 395 662)"/>
<path d="M455 575 L470 545 L478 560 L462 582"/>
</g>
</g>
<g>
<!-- leaders top-left -->
<path class="ld" d="M53.4 76.5 L66.5 123"/>
<path class="ld" d="M95.2 76.5 L82 128"/>
<path class="ld" d="M140.6 75.2 L135.3 108.5"/>
<path class="ld" d="M200.3 76.5 L191 103"/>
<path class="ld" d="M274.5 78.5 L255.4 129.5"/>
<path class="ld" d="M339 82 L317.2 187"/>
<path class="ld" d="M382.6 82 L382.3 235.4"/>
<path class="ld" d="M165.8 232 L176.3 191.6"/>
<path class="ld" d="M254.4 229.7 L269.8 183.6"/>
<path class="ld" d="M62 246.5 L74.8 274"/>
<path class="ld" d="M137.3 237.5 L137.3 270"/>
<!-- axes top-left -->
<path class="ld" d="M412.3 83 L418.3 217"/>
<path class="ld" d="M390 272 L423 277.8"/>
<path class="ld" d="M481.3 85.3 L474.5 112.5"/>
<path class="ld" d="M583.4 109.3 L557.1 187.5 L567.2 236.7"/>
<path class="ld" d="M695.9 133.5 L646 287"/>
<path class="ld" d="M618.5 117 L606.5 153.5"/>
<path class="ld" d="M741.7 391.4 L733.7 609"/>
<path class="ld" d="M713.7 471.7 L703.9 592"/>
<path class="ld" d="M534.1 319.6 L500.3 316"/>
<path class="ld" d="M439.6 295.6 L431.6 297.7"/>
<path class="ld" d="M288 296.5 L348.3 298.9 L391.9 321.4"/>
<path class="ld" d="M288 319 L332.2 320.6 L346 323"/>
<path class="ld" d="M316.1 401.2 L321 417 L329.5 447"/>
<path class="ld" d="M379 398 L369.3 448"/>
<path class="ld" d="M471.6 327.9 L410 450"/>
<path class="ld" d="M513 376.7 L504.2 457"/>
<path class="ld" d="M530.3 434.5 L503 487"/>
<path class="ld" d="M509.3 420 L502 487.7"/>
<path class="ld" d="M546.4 447.4 L524.6 505.4"/>
<path class="ld" d="M584.3 474 L561.7 523.1"/>
<path class="ld" d="M620.5 468.3 L599.6 539.3"/>
<path class="ld" d="M637.5 494.1 L645 571"/>
<path class="ld" d="M755.2 133.5 L741.8 168.5"/>
<path class="ld" d="M828.5 122 L799.8 188.7"/>
<path class="ld" d="M819.9 168.5 L790.9 245.1"/>
<path class="ld" d="M872 141 L847.3 207.2"/>
<path class="ld" d="M909.5 150 L886.8 222"/>
<path class="ld" d="M954.2 206.2 L921.8 340.4"/>
<path class="ld" d="M862.3 448.3 L780.5 650.4"/>
<path class="ax" d="M820 408.3 L897 432.8 M834.4 434.3 L860 441.5 M876.5 445.5 L1022 490 M1050.4 500 L1067 505"/>
<path class="ld" d="M1048.7 245.2 L982 305.3"/>
<path class="ld" d="M1049.5 245.5 L954.5 397"/>
<path class="ld" d="M1081 256 L1033.5 309.5"/>
<path class="ld" d="M1117 272 L1109.8 293.7"/>
<path class="ld" d="M1190 299 L1142.3 359"/>
<path class="ld" d="M1190.5 299 L1190.5 472.5"/>
<path class="ld" d="M1031.8 505 L1031.8 742" style="stroke-width:1.7;stroke:#666"/>
<path class="ld" d="M1093 608 L1033.5 742"/>
<path class="ld" d="M866.5 539.5 L780.5 650.4"/>
<path class="ld" d="M889 556.9 L812.2 663.7"/>
<path class="ld" d="M458.7 433.3 L447 463.3"/>
</g>
</g>
<g class="n">
<text transform="translate(37.45 74.10) scale(0.957 1) rotate(0.1)">18</text>
<text transform="translate(81.00 73.00) scale(0.957 1) rotate(0.1)">24</text>
<text transform="translate(127.90 73.30) scale(0.957 1) rotate(0.1)">26</text>
<text transform="translate(187.50 73.40) scale(0.957 1) rotate(0.1)">19</text>
<text transform="translate(262.80 76.10) scale(0.957 1) rotate(0.1)">22</text>
<text transform="translate(333.50 79.90) scale(0.957 1) rotate(0.1)">7</text>
<text transform="translate(377.40 76.60) scale(0.957 1) rotate(0.1)">8</text>
<text transform="translate(406.10 80.30) scale(0.957 1) rotate(0.1)">6</text>
<text transform="translate(470.55 83.50) scale(0.957 1) rotate(0.1)">23</text>
<text transform="translate(580.00 107.90) scale(0.957 1) rotate(0.1)">7</text>
<text transform="translate(609.00 114.50) scale(0.957 1) rotate(0.1)">20</text>
<text transform="translate(692.00 131.30) scale(0.957 1) rotate(0.1)">8</text>
<text transform="translate(744.70 129.60) scale(0.957 1) rotate(0.1)">21</text>
<text transform="translate(825.30 118.00) scale(0.957 1) rotate(0.1)">2</text>
<text transform="translate(871.85 134.80) scale(0.957 1) rotate(0.1)">3</text>
<text transform="translate(906.30 146.90) scale(0.957 1) rotate(0.1)">4</text>
<text transform="translate(819.15 165.70) scale(0.957 1) rotate(0.1)">1</text>
<text transform="translate(950.00 202.60) scale(0.957 1) rotate(0.1)">31</text>
<text transform="translate(1051.15 244.30) scale(0.957 1) rotate(0.1)">8</text>
<text transform="translate(1081.25 253.10) scale(0.957 1) rotate(0.1)">33</text>
<text transform="translate(1117.50 270.80) scale(0.957 1) rotate(0.1)">34</text>
<text transform="translate(1188.80 295.60) scale(0.957 1) rotate(0.1)">35</text>
<text transform="translate(159.50 251.00) scale(0.957 1) rotate(0.1)">6</text>
<text transform="translate(238.20 247.20) scale(0.957 1) rotate(0.1)">28</text>
<text transform="translate(73.25 293.70) scale(0.957 1) rotate(0.1)">8</text>
<text transform="translate(124.90 290.40) scale(0.957 1) rotate(0.1)">28</text>
<text transform="translate(362.40 276.00) scale(0.957 1) rotate(0.1)">25</text>
<text transform="translate(354.30 297.30) scale(0.957 1) rotate(0.1)">27</text>
<text transform="translate(261.05 302.90) scale(0.957 1) rotate(0.1)">10</text>
<text transform="translate(272.25 327.30) scale(0.957 1) rotate(0.1)">9</text>
<text transform="translate(316.85 465.60) scale(0.957 1) rotate(0.1)">17</text>
<text transform="translate(362.45 469.50) scale(0.957 1) rotate(0.1)">5</text>
<text transform="translate(394.90 471.20) scale(0.957 1) rotate(0.1)">30</text>
<text transform="translate(439.50 302.90) scale(0.957 1) rotate(0.1)">28</text>
<text transform="translate(534.20 328.80) scale(0.957 1) rotate(0.1)">29</text>
<text transform="translate(431.55 484.00) scale(0.957 1) rotate(0.1)">16</text>
<text transform="translate(493.25 506.70) scale(0.957 1) rotate(0.1)">8</text>
<text transform="translate(509.75 525.20) scale(0.957 1) rotate(0.1)">13</text>
<text transform="translate(541.40 542.00) scale(0.957 1) rotate(0.1)">12</text>
<text transform="translate(582.40 558.50) scale(0.957 1) rotate(0.1)">14</text>
<text transform="translate(629.90 589.80) scale(0.957 1) rotate(0.1)">15</text>
<text transform="translate(690.55 611.50) scale(0.957 1) rotate(0.1)">11</text>
<text transform="translate(719.85 629.40) scale(0.957 1) rotate(0.1)">32</text>
<text transform="translate(769.80 669.30) scale(0.957 1) rotate(0.1)">8</text>
<text transform="translate(797.10 685.80) scale(0.957 1) rotate(0.1)">36</text>
<text transform="translate(1019.00 762.50) scale(0.957 1) rotate(0.1)">35</text>
<text class="c" x="1100.2" y="763.6" textLength="109" lengthAdjust="spacingAndGlyphs">05.04.014-D</text>
<rect x="37.65" y="70.70" width="5.28" height="4.2" fill="#fff"/>
<rect x="46.10" y="70.70" width="5.03" height="4.2" fill="#fff"/>
<rect x="187.70" y="70.00" width="5.28" height="4.2" fill="#fff"/>
<rect x="196.15" y="70.00" width="5.03" height="4.2" fill="#fff"/>
<rect x="757.90" y="126.20" width="5.15" height="4.2" fill="#fff"/>
<rect x="766.34" y="126.20" width="4.90" height="4.2" fill="#fff"/>
<rect x="819.35" y="162.30" width="5.28" height="4.2" fill="#fff"/>
<rect x="827.79" y="162.30" width="5.03" height="4.2" fill="#fff"/>
<rect x="963.20" y="199.20" width="5.15" height="4.2" fill="#fff"/>
<rect x="971.64" y="199.20" width="4.90" height="4.2" fill="#fff"/>
<rect x="261.25" y="299.50" width="5.28" height="4.2" fill="#fff"/>
<rect x="269.69" y="299.50" width="5.03" height="4.2" fill="#fff"/>
<rect x="317.05" y="462.20" width="5.28" height="4.2" fill="#fff"/>
<rect x="325.50" y="462.20" width="5.03" height="4.2" fill="#fff"/>
<rect x="431.75" y="480.60" width="5.28" height="4.2" fill="#fff"/>
<rect x="440.19" y="480.60" width="5.03" height="4.2" fill="#fff"/>
<rect x="509.95" y="521.80" width="5.28" height="4.2" fill="#fff"/>
<rect x="518.39" y="521.80" width="5.03" height="4.2" fill="#fff"/>
<rect x="541.60" y="538.60" width="5.28" height="4.2" fill="#fff"/>
<rect x="550.04" y="538.60" width="5.03" height="4.2" fill="#fff"/>
<rect x="582.60" y="555.10" width="5.28" height="4.2" fill="#fff"/>
<rect x="591.05" y="555.10" width="5.03" height="4.2" fill="#fff"/>
<rect x="630.10" y="586.40" width="5.28" height="4.2" fill="#fff"/>
<rect x="638.54" y="586.40" width="5.03" height="4.2" fill="#fff"/>
<rect x="690.75" y="608.10" width="5.28" height="4.2" fill="#fff"/>
<rect x="699.19" y="608.10" width="5.03" height="4.2" fill="#fff"/>
<rect x="702.38" y="608.10" width="5.28" height="4.2" fill="#fff"/>
<rect x="710.94" y="608.10" width="4.90" height="4.2" fill="#fff"/>
</g>
</svg>
</body></html>
